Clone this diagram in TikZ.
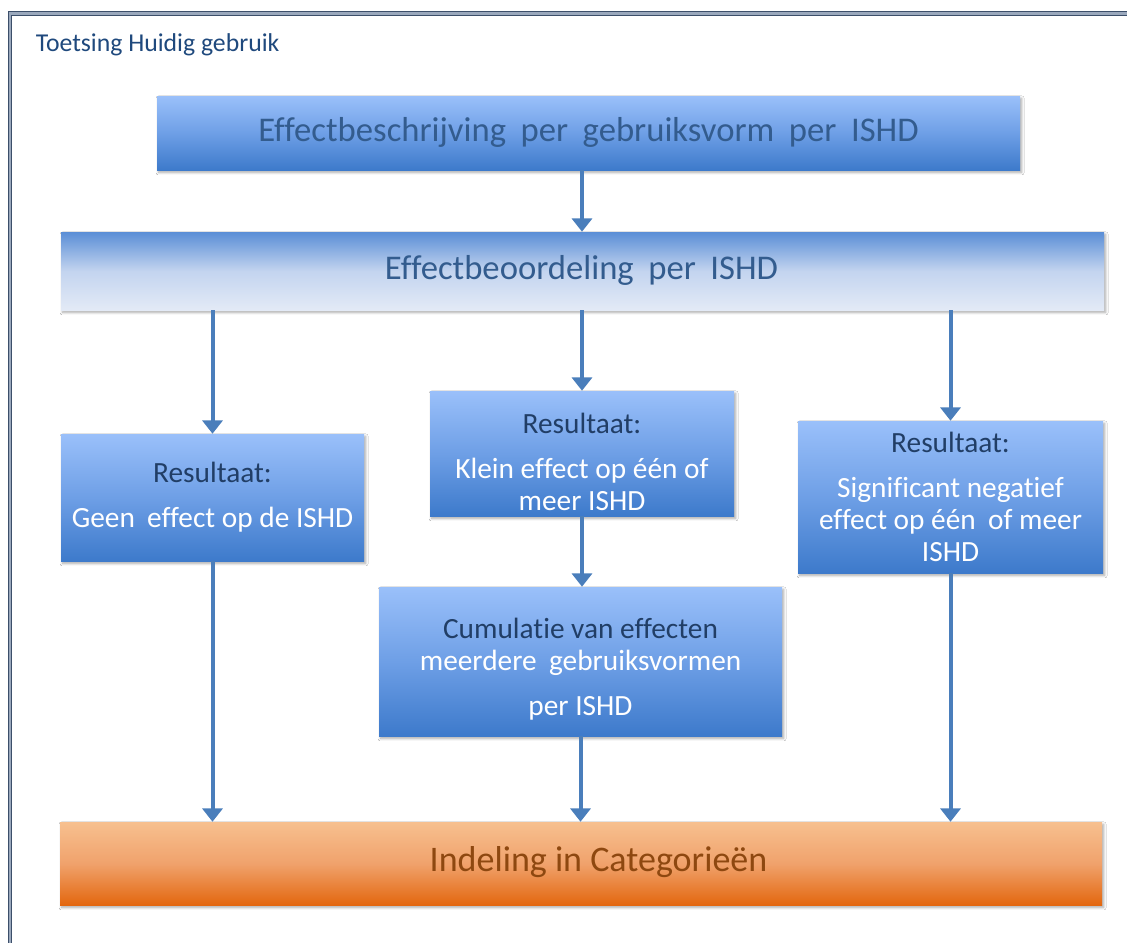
\documentclass[tikz,border=0pt]{standalone}
\usepackage{fontspec}
\setmainfont{Carlito}[RawFeature={-liga;-clig;-calt;-dlig}]
\usetikzlibrary{arrows.meta,shadows.blur}
\definecolor{framedk}{HTML}{3C4F6A}
\definecolor{framelt}{HTML}{9AA8BC}
\definecolor{titlecol}{HTML}{1F497D}
\definecolor{headcol}{HTML}{335C8E}
\definecolor{dkcol}{HTML}{213E66}
\definecolor{orgtext}{HTML}{8E4810}
\definecolor{arrcol}{HTML}{4A7EBB}
\definecolor{bluetop}{HTML}{9AC0FA}
\definecolor{bluemid}{HTML}{6E9FE6}
\definecolor{bluebot}{HTML}{3D7ACB}
\definecolor{paletop}{HTML}{5A8ED6}
\definecolor{palemid}{HTML}{C3D4EF}
\definecolor{palebot}{HTML}{E3EAF6}
\definecolor{orgtop}{HTML}{F7C08F}
\definecolor{orgmid}{HTML}{F0A26C}
\definecolor{orgbot}{HTML}{E3670F}
\newcommand{\wsp}{\hspace{0.42em}}
\tikzset{
  boxbase/.style={rectangle, inner sep=0pt, align=center,
    blur shadow={shadow blur steps=6, shadow xshift=1.2pt, shadow yshift=-1.8pt, shadow opacity=35}},
  bluebox/.style={boxbase, top color=bluetop, bottom color=bluebot, middle color=bluemid},
  palebox/.style={boxbase, top color=paletop, bottom color=palebot, middle color=palemid},
  orgbox/.style={boxbase, top color=orgtop, bottom color=orgbot, middle color=orgmid},
  arr/.style={draw=arrcol, line width=3pt, -{Triangle[width=15pt,length=10pt]}, arrcol},
  restext/.style={font=\fontsize{22}{24}\selectfont, align=center, inner sep=0pt},
  bigtext/.style={font=\fontsize{26}{30}\selectfont, align=center, inner sep=0pt},
}
\begin{document}
\begin{tikzpicture}[x=0.75pt,y=-0.75pt]
\useasboundingbox (0,0) rectangle (1127,942);
\clip (0,0) rectangle (1127,942);
\fill[white] (0,0) rectangle (1127,942);
% frame
\draw[draw=framedk, double=framelt, line width=1pt, double distance=1.6pt]
  (10,950) -- (10,13.5) -- (1140,13.5);
\node[anchor=west, text=titlecol, font=\fontsize{19.3}{22}\selectfont, inner sep=0pt] (title) at (35.5,45) {Toetsing Huidig gebruik};

% boxes
\node[bluebox, minimum width=647.25pt, minimum height=55.5pt] (top) at (588.5,133) {};
\node[palebox, minimum width=782.25pt, minimum height=58.5pt] (beoord) at (582.5,271) {};
\node[bluebox, minimum width=227.25pt, minimum height=95.25pt] (left) at (212.5,497.5) {};
\node[bluebox, minimum width=228pt, minimum height=93.75pt] (mid) at (582,453.5) {};
\node[bluebox, minimum width=228.75pt, minimum height=114pt] (right) at (950.5,497) {};
\node[bluebox, minimum width=302.25pt, minimum height=111.75pt] (cum) at (580.5,661.5) {};
\node[orgbox, minimum width=781.5pt, minimum height=62.25pt] (cat) at (581,863.5) {};

% texts
\node[bigtext, text=headcol] (toptxt) at (588.5,132)
  {Effectbeschrijving\wsp per\wsp gebruiksvorm\wsp per\wsp ISHD};
\node[bigtext, text=headcol] (beoordtxt) at (581.5,270)
  {Effectbeoordeling\wsp per\wsp ISHD};
\node[restext] (lefttxt) at (212.5,497.5)
  {\textcolor{dkcol}{Resultaat:}\\[10pt]\textcolor{white}{Geen\wsp effect op de ISHD}};
\node[restext] (midtxt) at (582,462)
  {\textcolor{dkcol}{Resultaat:}\\[10pt]\textcolor{white}{Klein effect op één of}\\\textcolor{white}{meer ISHD}};
\node[restext] (righttxt) at (950.5,497)
  {\textcolor{dkcol}{Resultaat:}\\[10pt]\textcolor{white}{Significant negatief}\\\textcolor{white}{effect op één\wsp of meer}\\\textcolor{white}{ISHD}};
\node[restext] (cumtxt) at (580.5,669.5)
  {\textcolor{dkcol}{Cumulatie van effecten}\\\textcolor{white}{meerdere\wsp gebruiksvormen}\\[10pt]\textcolor{white}{per ISHD}};
\node[bigtext, text=orgtext, font=\fontsize{27}{30}\selectfont] (cattxt) at (598.5,862) {Indeling in Categorieën};

% connectors
\draw[arr] (top.south -| mid) -- (beoord.north -| mid);
\draw[arr] (beoord.south -| left) -- (left.north);
\draw[arr] (beoord.south -| mid) -- (mid.north);
\draw[arr] (beoord.south -| right) -- (right.north);
\draw[arr] (mid.south) -- (mid.south |- cum.north);
\draw[arr] (left.south) -- (left.south |- cat.north);
\draw[arr] (cum.south) -- (cum.south |- cat.north);
\draw[arr] (right.south) -- (right.south |- cat.north);
\end{tikzpicture}
\end{document}
